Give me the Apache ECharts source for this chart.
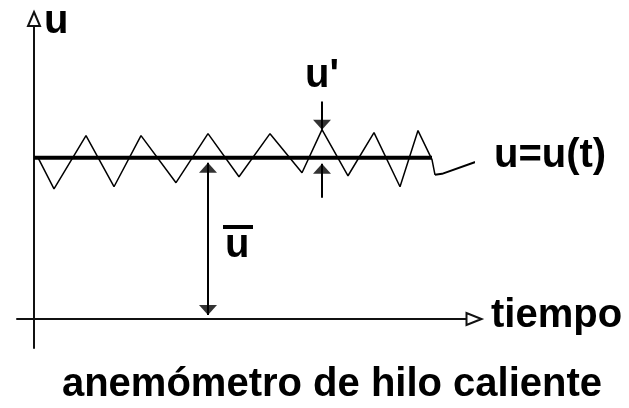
<!DOCTYPE html>
<html>
<head>
<meta charset="utf-8">
<script src="https://cdn.jsdelivr.net/npm/echarts@6/dist/echarts.min.js"></script>
<style>
html, body { margin: 0; padding: 0; background: #fff; }
#chart { width: 629px; height: 408px; }
</style>
</head>
<body>
<div id="chart"></div>
<script>
// Hot-wire anemometer signal: instantaneous velocity u(t) fluctuating around its mean ū.

// time axis and velocity axis extents (arbitrary units)
const tRange = [-1.7, 44];
const uRange = [-1.8, 18.6];

// mean velocity and the stretch of time it is drawn over
const uMean = 10;
const meanSpan = [0, 39.8];

// instantaneous signal u(t): [t, u]
const signal = [
  [0.4, 10.0], [2.0, 8.07], [5.2, 11.37], [8.0, 8.2], [10.7, 11.37],
  [14.2, 8.45], [17.4, 11.49], [20.5, 8.82], [23.6, 11.49], [26.8, 9.07],
  [28.8, 11.74], [31.4, 8.88], [34.0, 11.55], [36.6, 8.2], [38.4, 11.68],
  [39.8, 9.88], [40.1, 8.94]
];

// pointer from the end of the signal to its label
const pointer = [[40.1, 8.94], [40.8, 9.0], [45.6, 10.06]];

// dimension arrows: shafts and arrowhead tips
const meanArrow = [[17.4, 0.25], [17.4, 9.69]];
const primeArrowTop = [[28.8, 13.48], [28.8, 11.74]];
const primeArrowBottom = [[28.8, 7.52], [28.8, 9.63]];
const headsUp = [[17.4, 9.69], [28.8, 9.63]];
const headsDown = [[17.4, 0.25], [28.8, 11.74]];

// texts
const axisULabel = 'u';
const axisTLabel = 'tiempo';
const signalLabel = 'u=u(t)';
const primeLabel = "u'";
const meanLabel = 'u';
const caption = 'anemómetro de hilo caliente';

const FONT = 'bold 40px "Liberation Sans", Arial, Helvetica, sans-serif';
const INK = '#000';

const chart = echarts.init(document.getElementById('chart'), null, { renderer: 'canvas' });

function shaft(data, width) {
  return {
    type: 'line', data: data, symbol: 'none', clip: false, silent: true,
    lineStyle: { color: INK, width: width }, z: 5
  };
}

function heads(data, down) {
  return {
    type: 'scatter', data: data, symbol: 'triangle', symbolSize: [18, 10],
    symbolRotate: down ? 180 : 0, symbolOffset: down ? [0, -5] : [0, 5],
    itemStyle: { color: INK }, clip: false, silent: true, z: 6
  };
}

function label(text, x, y, align) {
  return {
    type: 'text', x: x, y: y, silent: true,
    style: { text: text, font: FONT, fill: INK, textAlign: align || 'left', textVerticalAlign: 'middle' }
  };
}

chart.setOption({
  animation: false,
  backgroundColor: '#fff',
  grid: { left: 17, right: 155, top: 19, bottom: 60, containLabel: false },
  xAxis: {
    type: 'value', min: tRange[0], max: tRange[1],
    axisLine: { show: true, onZero: true, symbol: ['none', 'emptyTriangle'], symbolSize: [12, 15],
      lineStyle: { color: '#111', width: 2 } },
    axisTick: { show: false }, axisLabel: { show: false }, splitLine: { show: false }
  },
  yAxis: {
    type: 'value', min: uRange[0], max: uRange[1],
    axisLine: { show: true, onZero: true, symbol: ['none', 'emptyTriangle'], symbolSize: [12, 14],
      lineStyle: { color: '#111', width: 2 } },
    axisTick: { show: false }, axisLabel: { show: false }, splitLine: { show: false }
  },
  series: [
    {
      type: 'line', data: signal, symbol: 'none', clip: false, silent: true,
      lineStyle: { color: INK, width: 1.5 }, z: 3
    },
    {
      type: 'line', data: [[meanSpan[0], uMean], [meanSpan[1], uMean]], symbol: 'none', silent: true,
      lineStyle: { color: INK, width: 4 }, z: 4
    },
    shaft(pointer, 2),
    shaft(meanArrow, 2),
    shaft(primeArrowTop, 2),
    shaft(primeArrowBottom, 2),
    heads(headsUp, false),
    heads(headsDown, true)
  ],
  graphic: [
    label(axisULabel, 44, 22),
    label(primeLabel, 305, 76),
    label(signalLabel, 494, 156),
    label(axisTLabel, 491, 316),
    label(meanLabel, 225, 246),
    { type: 'rect', silent: true, shape: { x: 223, y: 225, width: 30, height: 4 }, style: { fill: INK } },
    label(caption, 332, 385, 'center')
  ]
});
</script>
</body>
</html>
